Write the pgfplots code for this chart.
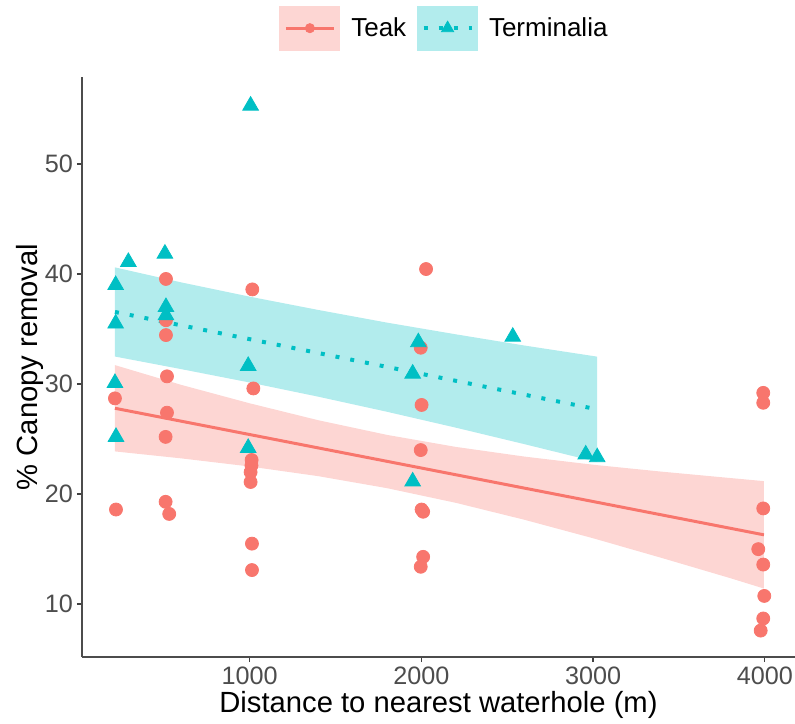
\documentclass[border=0pt]{standalone}
\usepackage{pgfplots}
\pgfplotsset{compat=1.18}
\usepackage{fontspec}
\setmainfont{Liberation Sans}
\definecolor{teak}{HTML}{F8766D}
\definecolor{term}{HTML}{00BFC4}
\definecolor{ticklab}{HTML}{4D4D4D}

\begin{document}
\begin{tikzpicture}
\begin{axis}[
  name=ax,
  scale only axis,
  width=356.5pt, height=290pt,
  xmin=23, xmax=4176, ymin=5.2, ymax=57.9,
  axis x line=bottom, axis y line=left,
  axis line style={-, black!70, line width=0.8pt},
  xtick={1000,2000,3000,4000}, ytick={10,20,30,40,50},
  tick align=outside, major tick length=2.5pt,
  tick style={black!75, line width=0.7pt},
  ticklabel style={font=\fontsize{12.6}{14}\selectfont, text=ticklab},
  xticklabel style={yshift=1pt},
  yticklabel style={xshift=1.5pt},
  /pgf/number format/assume math mode=true,
  /pgf/number format/1000 sep={},
  xlabel={Distance to nearest waterhole (m)},
  ylabel={\% Canopy removal},
  xlabel shift=-3.5pt, ylabel shift=-6pt,
  label style={font=\fontsize{14.6}{17}\selectfont},
  legend columns=2,
  legend style={at={(0.507,1)}, anchor=south, yshift=13pt, draw=none,
    inner sep=0pt, font=\fontsize{13}{15}\selectfont,
    nodes={inner sep=0pt},
    /tikz/every odd column/.append style={column sep=5.5pt},
    /tikz/every even column/.append style={column sep=5.5pt}},
]

% points
\addplot[only marks, mark=*, mark size=3.25pt, teak, forget plot] coordinates {
 (215,28.7) (221,18.6)
 (512,39.55) (512,35.8) (512,34.45) (518,30.7) (518,27.4) (510,25.2) (510,19.3) (531,18.2)
 (1015,38.6) (1021,29.6) (1011,23.1) (1010,22.6) (1005,22.0) (1005,21.1) (1013,15.5) (1013,13.1)
 (2027,40.45) (1996,33.3) (2001,28.1) (1996,24.0) (2001,18.6) (2010,18.4) (2010,14.3) (1996,13.4)
 (3991,29.2) (3991,28.3) (3991,18.7) (3962,15.0) (3991,13.6) (3997,10.75) (3991,8.7) (3976,7.6)
};
\addplot[only marks, mark=triangle*, mark size=4.5pt, term, forget plot] coordinates {
 (219,39.0) (219,35.5) (293,41.1) (215,30.1) (221,25.2)
 (506,41.85) (512,37.0) (512,36.25)
 (1005,55.3) (991,31.65) (991,24.2)
 (1982,33.8) (1949,30.95) (1949,21.15) (2532,34.3)
 (2957,23.6) (3024,23.35)
};

% confidence ribbons
\addplot[fill=teak, fill opacity=0.3, draw=none, forget plot] coordinates {
 (215,31.72) (600,29.93) (1000,28.25) (1400,26.71) (1800,25.38) (2200,24.29)
 (2600,23.41) (3000,22.67) (3400,22.04) (3800,21.46) (3995,21.18)
 (3995,11.42) (3800,12.36) (3400,14.20) (3000,15.99) (2600,17.67) (2200,19.21)
 (1800,20.54) (1400,21.63) (1000,22.51) (600,23.25) (215,23.88)
};
\addplot[fill=term, fill opacity=0.3, draw=none, forget plot] coordinates {
 (215,40.60) (600,39.24) (1000,37.94) (1400,36.73) (1800,35.58) (2200,34.52)
 (2600,33.50) (3024,32.49)
 (3024,22.91) (2600,24.54) (2200,26.04) (1800,27.48) (1400,28.85) (1000,30.14)
 (600,31.36) (215,32.50)
};

% fitted lines
\addplot[teak, line width=1.5pt, forget plot] coordinates {(215,27.8) (3995,16.3)};
\addplot[term, line width=2pt, dash pattern=on 2pt off 5.5pt, forget plot] coordinates {(215,36.55) (3024,27.70)};

\addlegendimage{legend image code/.code={
  \fill[teak!30] (0pt,-11pt) rectangle (30pt,11pt);
  \draw[teak, line width=1.5pt] (3pt,0pt) -- (27pt,0pt);
  \fill[teak] (15pt,0pt) circle (2.3pt);}}
\addlegendentry{Teak}
\addlegendimage{legend image code/.code={
  \fill[term!30] (0pt,-11pt) rectangle (30pt,11pt);
  \draw[term, line width=2pt, dash pattern=on 2pt off 5.5pt] (3pt,0pt) -- (27pt,0pt);
  \fill[term] (15pt,0pt) ++(90:3.5pt) -- ++(-120:6.06pt) -- ++(0:6.06pt) -- cycle;}}
\addlegendentry{Terminalia}
\end{axis}
\pgfresetboundingbox
\path ([xshift=-41pt,yshift=-33pt]ax.south west) rectangle ([yshift=38.5pt]ax.north east);
\end{tikzpicture}
\end{document}
